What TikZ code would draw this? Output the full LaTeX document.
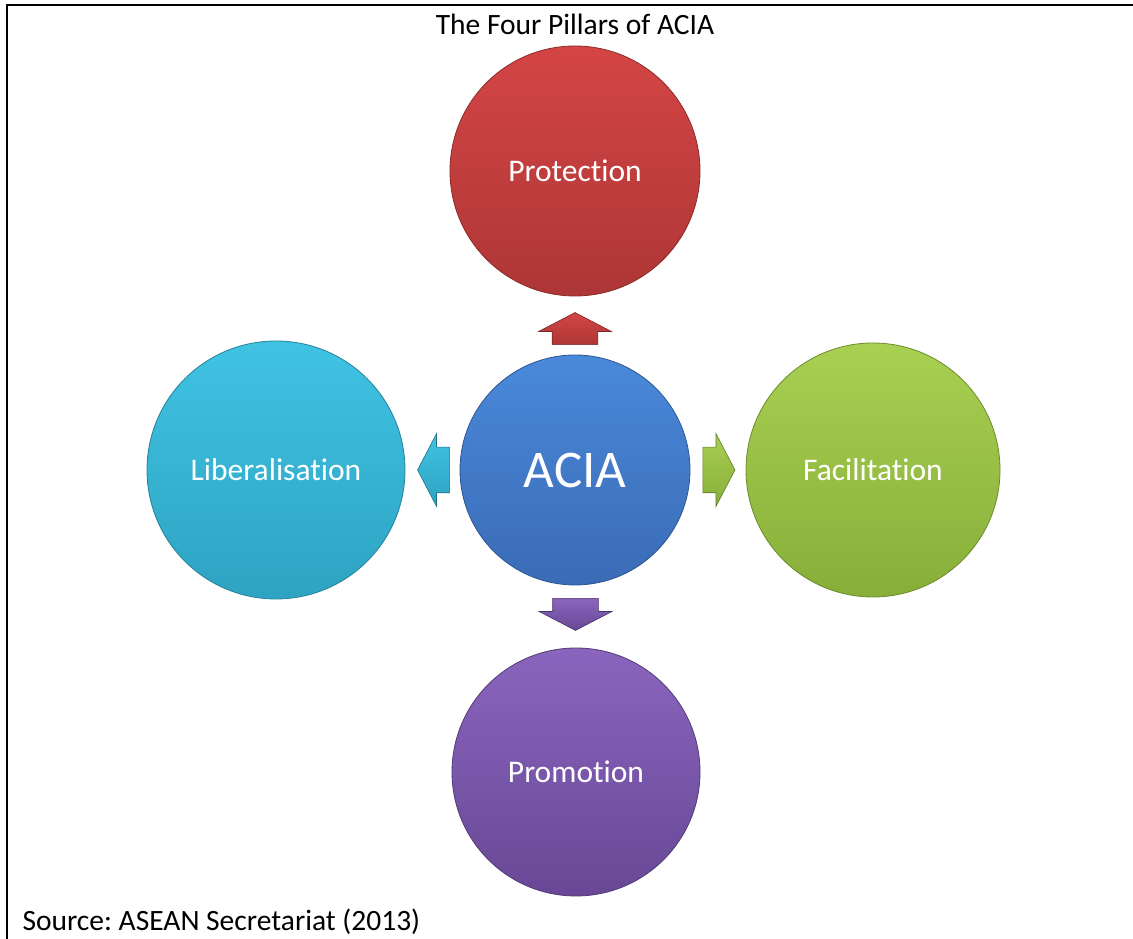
\documentclass[tikz,border=0pt]{standalone}
\usepackage{fontspec}
\setmainfont{Carlito}[Ligatures=NoCommon]
\usetikzlibrary{calc,shapes.arrows}
\frenchspacing

\definecolor{rouge}{HTML}{D44545}
\definecolor{rougef}{HTML}{AE3636}
\definecolor{bleu}{HTML}{4A89DA}
\definecolor{bleuf}{HTML}{3A6BB6}
\definecolor{cyan}{HTML}{40C3E3}
\definecolor{cyanf}{HTML}{2EA3C2}
\definecolor{vert}{HTML}{A9D052}
\definecolor{vertf}{HTML}{87AE38}
\definecolor{violet}{HTML}{8A65BD}
\definecolor{violetf}{HTML}{684896}

\tikzset{
  pilier/.style 2 args={circle, minimum size=#1, inner sep=0pt,
    top color=#2, bottom color=#2f, draw=#2f!80!black, line width=0.8pt,
    text=white, font=\fontsize{31.5}{34}\selectfont},
  fleche/.style={single arrow, inner xsep=0pt, inner ysep=22.5pt,
    minimum height=32pt, single arrow head extend=13.5pt,
    single arrow tip angle=125, top color=#1, bottom color=#1f,
    draw=#1f!70!black, line width=0.6pt},
  fleche v/.style={fleche=#1, inner xsep=22.5pt, inner ysep=0pt}
}

\begin{document}
\begin{tikzpicture}[x=1pt,y=1pt]

% Cadre
\useasboundingbox (0,0) rectangle (1133,939);
\draw[line width=2pt] (7,0) -- (7,934) -- (1133,934);

% Titre et source
\node[anchor=base, font=\fontsize{29.5}{32}\selectfont] (titre) at (575,904) {The Four Pillars of ACIA};
\node[anchor=base west, font=\fontsize{29.5}{32}\selectfont] (source) at (19,8) {Source: ASEAN Secretariat (2013)};

% Cercles
\node[pilier={230pt}{bleu}, font=\fontsize{53}{58}\selectfont] (acia) at (575,469) {ACIA};
\node[pilier={250pt}{rouge}] (protection) at (575,768) {Protection};
\node[pilier={258pt}{cyan}] (liberalisation) at (276,469) {Liberalisation};
\node[pilier={254pt}{vert}] (facilitation) at (873,469) {Facilitation};
\node[pilier={248pt}{violet}] (promotion) at (576,167) {Promotion};

% Fleches
\node[fleche v=rouge, shape border rotate=90, yshift=-9pt] (fh) at ($(acia.north)!0.5!(protection.south)$) {};
\node[fleche=cyan, shape border rotate=180, xshift=7pt] (fg) at ($(acia.west)!0.5!(liberalisation.east)$) {};
\node[fleche=vert, xshift=-5pt] (fd) at ($(acia.east)!0.5!(facilitation.west)$) {};
\node[fleche v=violet, shape border rotate=270, yshift=8pt] (fb) at ($(acia.south)!0.5!(promotion.north)$) {};

\end{tikzpicture}
\end{document}
